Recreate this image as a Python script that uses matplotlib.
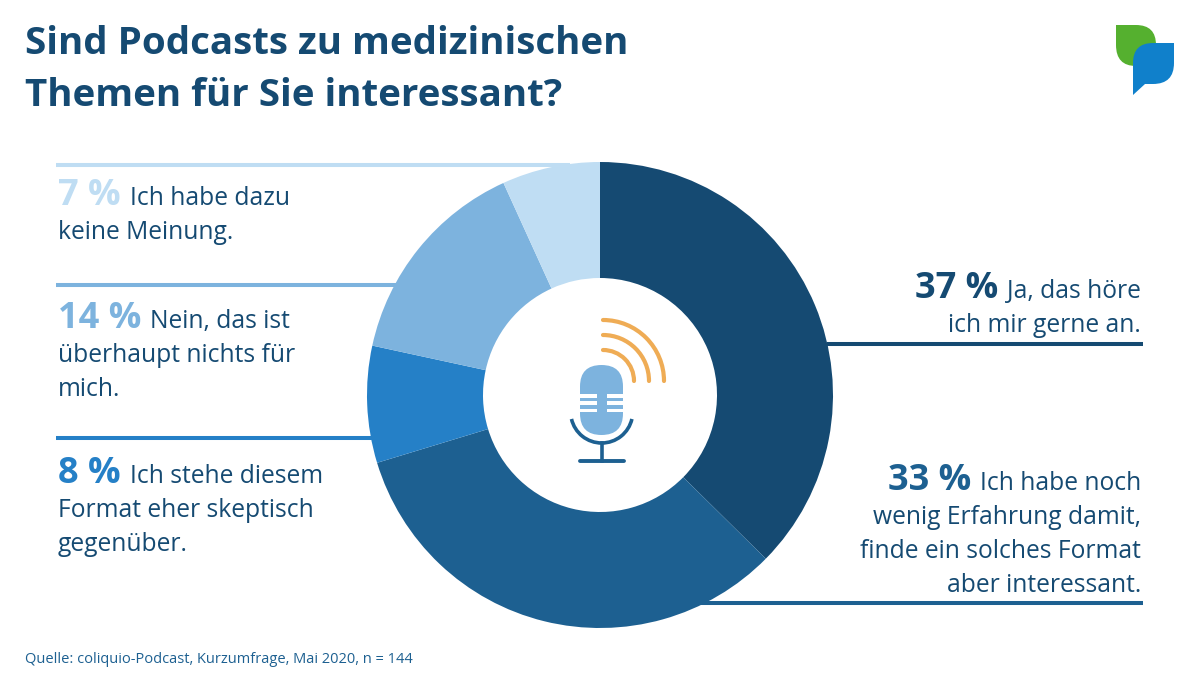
import matplotlib
matplotlib.use("Agg")
import matplotlib.pyplot as plt
from matplotlib.patches import Arc, FancyBboxPatch, PathPatch, Rectangle
from matplotlib.path import Path

plt.rcParams['font.family'] = ['Open Sans', 'Noto Sans', 'DejaVu Sans']

title_lines = ["Sind Podcasts zu medizinischen", "Themen für Sie interessant?"]
source = "Quelle: coliquio-Podcast, Kurzumfrage, Mai 2020, n = 144"

# clockwise from the top, shares as measured on the ring (printed labels are rounded)
values = [37.4, 32.9, 8.1, 14.8, 6.8]
percent_labels = ["37 %", "33 %", "8 %", "14 %", "7 %"]
first_lines = ["Ja, das höre", "Ich habe noch", "Ich stehe diesem", "Nein, das ist", "Ich habe dazu"]
more_lines = [
    ["ich mir gerne an."],
    ["wenig Erfahrung damit,", "finde ein solches Format", "aber interessant."],
    ["Format eher skeptisch", "gegenüber."],
    ["überhaupt nichts für", "mich."],
    ["keine Meinung."],
]
colors = ["#154A72", "#1D6091", "#2580C7", "#7DB3DE", "#BFDDF3"]

DARK = "#154A72"
BODY_SIZE = 17.7
PCT_SIZE = 26
LINE_H = 34

fig = plt.figure(figsize=(12, 6.75), dpi=100)
ax = fig.add_axes([0, 0, 1, 1])


def Y(y):
    return 675 - y


# leader lines go under the donut
leaders = [(827, 1143, 344), (700, 1143, 603), (56, 375, 438), (56, 398, 285), (56, 570, 165)]
for (x0, x1, y), c in zip(leaders, colors):
    ax.plot([x0, x1], [Y(y), Y(y)], color=c, lw=2.9, solid_capstyle="butt", zorder=1)

wedges, _ = ax.pie(values, colors=colors, startangle=90, counterclock=False, center=(600, Y(395)), radius=233,
                   wedgeprops=dict(width=116, linewidth=0), frame=True)
ax.set_xlim(0, 1200)
ax.set_ylim(0, 675)
ax.set_aspect("auto")
ax.axis("off")

for i, line in enumerate(title_lines):
    ax.text(25, Y(54 + i * 52), line, fontsize=27.7, fontweight="bold", color=DARK, va="baseline")

ax.text(25, Y(663), source, fontsize=10.5, color="#1D6091", va="baseline")

renderer = fig.canvas.get_renderer()
inv = ax.transData.inverted()


def right_block(idx, y):
    t = ax.text(1141, Y(y), first_lines[idx], fontsize=BODY_SIZE, color=DARK, ha="right", va="baseline")
    x_left = inv.transform(t.get_window_extent(renderer))[0][0]
    ax.text(x_left - 9, Y(y), percent_labels[idx], fontsize=PCT_SIZE, fontweight="bold",
            color=colors[idx], ha="right", va="baseline")
    for n, line in enumerate(more_lines[idx]):
        ax.text(1141, Y(y + (n + 1) * LINE_H), line, fontsize=BODY_SIZE, color=DARK, ha="right", va="baseline")


def left_block(idx, y):
    p = ax.text(58, Y(y), percent_labels[idx], fontsize=PCT_SIZE, fontweight="bold",
                color=colors[idx], va="baseline")
    x_right = inv.transform(p.get_window_extent(renderer))[1][0]
    ax.text(x_right + 9, Y(y), first_lines[idx], fontsize=BODY_SIZE, color=DARK, va="baseline")
    for n, line in enumerate(more_lines[idx]):
        ax.text(58, Y(y + (n + 1) * LINE_H), line, fontsize=BODY_SIZE, color=DARK, va="baseline")


right_block(0, 298)
right_block(1, 490)
left_block(2, 483)
left_block(3, 328)
left_block(4, 205)

# microphone icon
ax.add_patch(FancyBboxPatch((580, Y(435)), 43, 70, boxstyle="round,pad=0,rounding_size=21.5",
                            fc="#7DB3DE", ec="none", zorder=3))
for y0, y1 in [(394, 397.5), (401, 404.5), (408.5, 412)]:
    ax.add_patch(Rectangle((580, Y(y1)), 17, y1 - y0, fc="white", ec="none", zorder=4))
    ax.add_patch(Rectangle((607, Y(y1)), 16, y1 - y0, fc="white", ec="none", zorder=4))
ax.add_patch(Arc((601.7, Y(412)), 62, 62, theta1=193, theta2=347, color="#1D6091", lw=2.6, zorder=3))
ax.plot([601.7, 601.7], [Y(443), Y(461)], color="#1D6091", lw=2.6, zorder=3)
ax.plot([580, 624], [Y(461), Y(461)], color="#1D6091", lw=2.8, solid_capstyle="round", zorder=3)
for r in [31, 46, 61]:
    ax.add_patch(Arc((603, Y(381)), 2 * r, 2 * r, theta1=0, theta2=90, color="#EFAC55", lw=3.0,
                     capstyle="round", zorder=3))

# logo
green = Path([(1116, Y(25)), (1136, Y(25)), (1156, Y(25)), (1156, Y(45)), (1156, Y(66)), (1136, Y(66)),
              (1116, Y(66)), (1116, Y(45)), (1116, Y(25))],
             [Path.MOVETO, Path.LINETO, Path.CURVE3, Path.CURVE3, Path.LINETO, Path.LINETO,
              Path.CURVE3, Path.CURVE3, Path.CLOSEPOLY])
ax.add_patch(PathPatch(green, fc="#55B02F", ec="none", zorder=3))
blue = Path([(1174, Y(43)), (1174, Y(63)), (1174, Y(84)), (1153, Y(84)), (1145, Y(84)), (1133, Y(95)),
             (1133, Y(63)), (1133, Y(43)), (1153, Y(43)), (1174, Y(43))],
            [Path.MOVETO, Path.LINETO, Path.CURVE3, Path.CURVE3, Path.LINETO, Path.LINETO,
             Path.LINETO, Path.CURVE3, Path.CURVE3, Path.CLOSEPOLY])
ax.add_patch(PathPatch(blue, fc="#1080CB", ec="none", zorder=4))

fig.savefig("out.png", dpi=100, facecolor="white")
